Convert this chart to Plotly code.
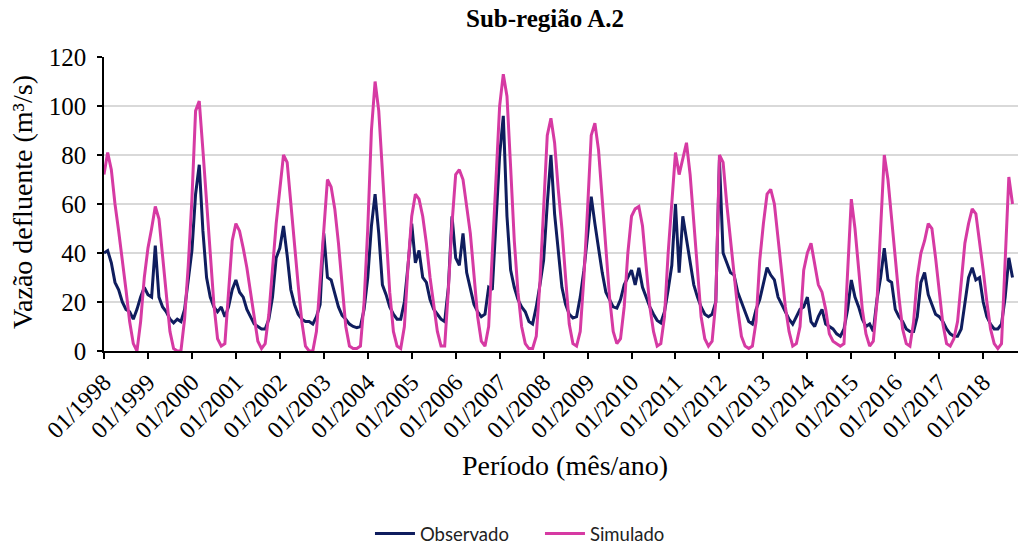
import plotly.graph_objects as go

# ---------------- data (monthly, 01/1998 .. 09/2018) ----------------
simulado = [
    72, 81, 74, 60, 49, 38, 25, 12, 3, 0, 12, 30,        # 1998
    42, 50, 59, 54, 38, 22, 8, 1, 0, 0, 13, 35,          # 1999
    62, 98, 102, 82, 60, 40, 19, 5, 2, 3, 25, 45,        # 2000
    52, 49, 42, 34, 24, 14, 4, 1, 3, 15, 35, 52,         # 2001
    66, 80, 77, 60, 42, 27, 12, 2, 0, 0, 8, 30,          # 2002
    52, 70, 67, 58, 44, 27, 10, 2, 1, 1, 2, 20,          # 2003
    50, 90, 110, 98, 72, 47, 24, 8, 2, 1, 10, 35,        # 2004
    55, 64, 62, 55, 44, 30, 19, 8, 2, 2, 25, 52,         # 2005
    72, 74, 70, 60, 48, 31, 14, 4, 2, 10, 40, 68,        # 2006
    100, 113, 104, 75, 45, 24, 10, 3, 1, 1, 6, 28,       # 2007
    60, 88, 95, 85, 66, 50, 30, 11, 3, 2, 8, 30,         # 2008
    58, 88, 93, 82, 62, 42, 22, 8, 3, 5, 18, 40,         # 2009
    55, 58, 59, 51, 33, 18, 8, 2, 3, 14, 40, 60,         # 2010
    81, 72, 78, 85, 72, 52, 30, 14, 5, 2, 4, 20,         # 2011
    80, 77, 60, 45, 30, 17, 6, 2, 1, 2, 12, 37,          # 2012
    52, 64, 66, 60, 46, 31, 18, 8, 2, 3, 10, 33,         # 2013
    40, 44, 35, 27, 24, 17, 7, 4, 3, 2, 3, 30,           # 2014
    62, 50, 33, 17, 7, 2, 4, 20, 50, 80, 70, 55,         # 2015
    38, 22, 9, 3, 2, 12, 30, 40, 45, 52, 50, 38,         # 2016
    24, 11, 3, 2, 5, 12, 28, 44, 52, 58, 56, 45,         # 2017
    33, 20, 9, 3, 1, 3, 40, 71, 60,                      # 2018
]

observado = [
    40, 41, 36, 28, 25, 20, 17, 16, 13, 17, 22, 26,      # 1998
    23, 22, 43, 22, 18, 16, 13, 11.5, 13, 12, 17, 28,    # 1999
    41, 64, 76, 49, 30, 22, 18, 16, 18, 14, 18, 25,      # 2000
    29, 24, 22, 17, 14, 11, 10, 9, 9, 13, 22, 38,        # 2001
    42, 51, 39, 25, 19, 15, 13, 12, 12, 11, 14, 19,      # 2002
    48, 30, 29, 24, 18, 14.5, 13, 11, 10, 9.5, 10, 17,   # 2003
    30, 51, 64, 48, 27, 23, 18, 15, 13, 13, 20, 35,      # 2004
    52, 36, 41, 30, 28, 21, 17, 15, 13, 12, 26, 55,      # 2005
    38, 35, 48, 32, 25, 19, 16, 14, 15, 26, 25, 50,      # 2006
    80, 96, 55, 33, 26, 21, 18, 16, 12, 11, 18, 27,      # 2007
    37, 60, 80, 56, 41, 26, 19, 15, 13.5, 14, 22, 33,    # 2008
    47, 63, 52, 41, 32, 24, 21, 18, 17.5, 21, 27, 30,    # 2009
    33, 27, 34, 26, 22, 18, 15, 12.5, 11.5, 16, 25, 35,  # 2010
    60, 32, 55, 45, 36, 27, 22, 18, 15, 14, 15, 20,      # 2011
    78, 40, 36, 32, 31, 24, 20, 16, 12, 11, 17, 21,      # 2012
    27, 34, 31, 29, 22, 19, 16, 13, 11, 14, 17, 18,      # 2013
    22, 12, 10, 14, 17, 11, 10, 9, 7, 6, 9, 17,          # 2014
    29, 22, 18, 13, 10, 11, 8, 21, 30, 42, 29, 28,       # 2015
    17, 14, 12, 9, 8, 8, 14, 28, 32, 23, 19, 15,         # 2016
    14, 12, 9, 7, 6, 6, 9, 20, 30, 34, 29, 30,           # 2017
    20, 14, 11, 9, 9, 11, 22, 38, 30,                    # 2018
]

anos = list(range(1998, 2019))
tick_labels = ["01/%d" % a for a in anos]
tick_pos = [12 * i for i in range(len(anos))]
meses = list(range(len(simulado)))
y_ticks = [0, 20, 40, 60, 80, 100, 120]

SERIF = "Liberation Serif"
NAVY = "#0f1d5e"
PINK = "#d63aa3"

fig = go.Figure()
fig.add_trace(go.Scatter(x=meses, y=observado, mode="lines", name="Observado",
                         line=dict(color=NAVY, width=3)))
fig.add_trace(go.Scatter(x=meses, y=simulado, mode="lines", name="Simulado",
                         line=dict(color=PINK, width=3)))

fig.update_layout(
    width=1020, height=544,
    margin=dict(l=104, r=2, t=57, b=193, autoexpand=False),
    paper_bgcolor="white", plot_bgcolor="white",
    title=dict(text="<b>Sub-região A.2</b>", x=0.4825, xref="paper", xanchor="center",
               y=1 - 18 / 544, yref="container", yanchor="middle",
               font=dict(family=SERIF, size=25, color="black")),
    showlegend=True,
    legend=dict(orientation="h", x=0.291, xanchor="left", y=-0.622, yanchor="middle",
                font=dict(family="Lato", size=18.5, color="#222222"),
                itemwidth=40, entrywidth=115, entrywidthmode="pixels",
                tracegroupgap=0),
    annotations=[
        dict(text="Vazão defluente (m³/s)", xref="paper", yref="paper",
             x=-0.0885, y=0.507, textangle=-90, showarrow=False,
             font=dict(family=SERIF, size=28, color="black"),
             xanchor="center", yanchor="middle"),
        dict(text="Período (mês/ano)", xref="paper", yref="paper",
             x=0.504, y=-0.391, showarrow=False,
             font=dict(family=SERIF, size=28, color="black"),
             xanchor="center", yanchor="middle"),
    ],
)

fig.update_xaxes(range=[0, 249.5], tickmode="array", tickvals=tick_pos, ticktext=tick_labels,
                 tickangle=-45, ticks="outside", ticklen=6, tickwidth=1.5, tickcolor="black",
                 showline=True, linecolor="black", linewidth=1.5, showgrid=False,
                 zeroline=False, automargin=False,
                 tickfont=dict(family=SERIF, size=24, color="black"))
fig.update_yaxes(range=[0, 120], tickmode="array", tickvals=y_ticks,
                 ticks="outside", ticklen=5, tickwidth=1.5, tickcolor="black",
                 ticklabelstandoff=6, automargin=False,
                 showline=True, linecolor="black", linewidth=1.5,
                 showgrid=True, gridcolor="#d9d9d9", gridwidth=1.5, zeroline=False,
                 tickfont=dict(family=SERIF, size=25, color="black"))

fig.write_html("out.html")
